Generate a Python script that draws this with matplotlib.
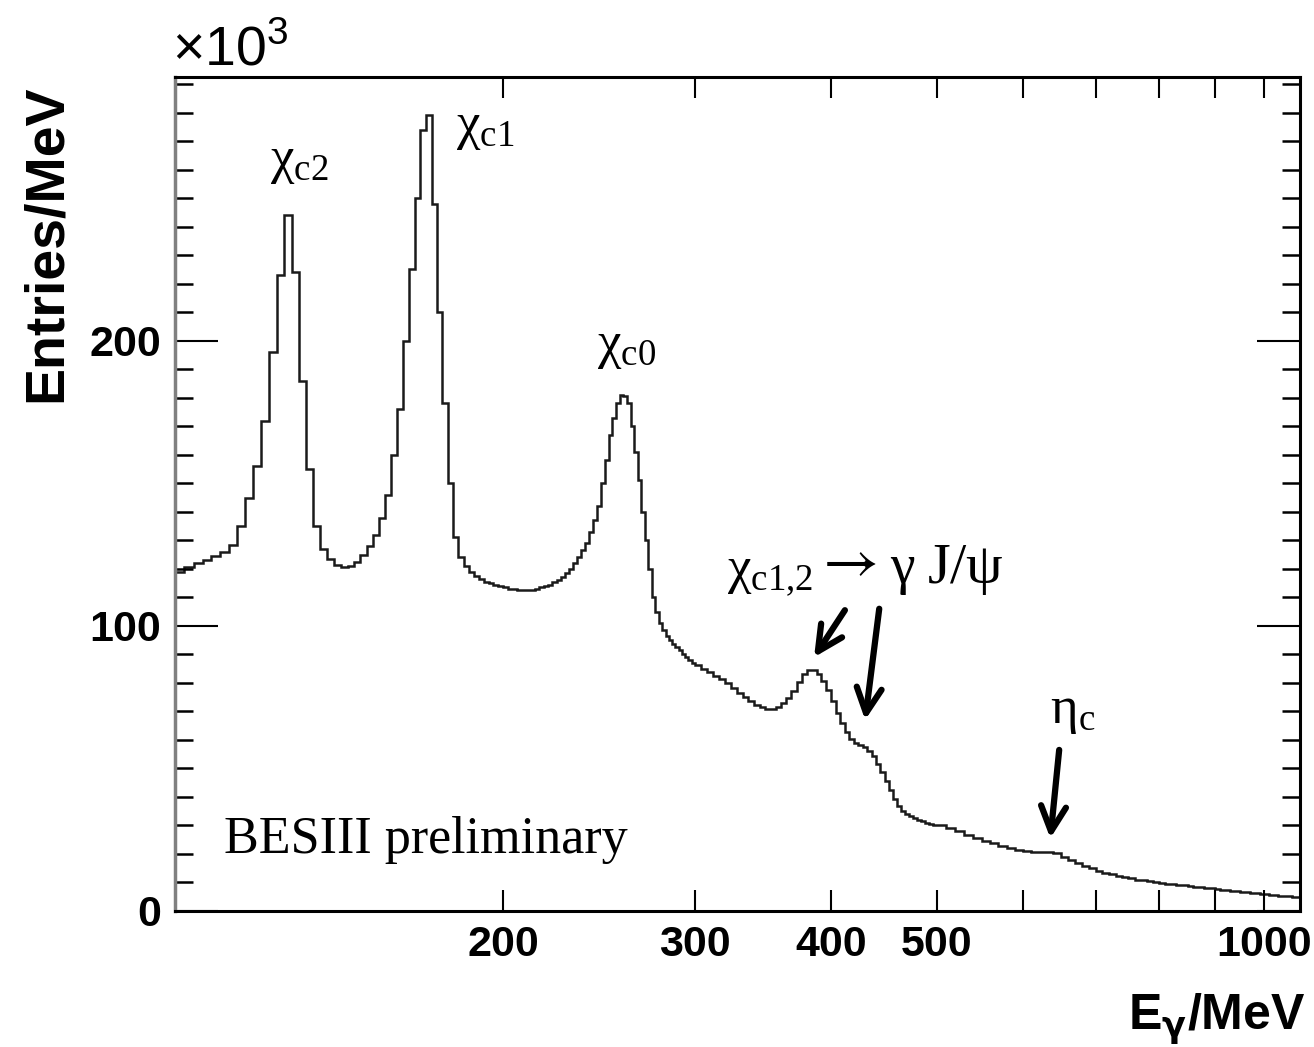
import numpy as np
import matplotlib
matplotlib.use("Agg")
import matplotlib.pyplot as plt
from matplotlib.ticker import FixedLocator, MultipleLocator, NullFormatter, FixedFormatter

plt.rcParams["font.family"] = ["Liberation Sans", "DejaVu Sans"]
plt.rcParams["mathtext.rm"] = "Liberation Serif"
plt.rcParams["mathtext.it"] = "Liberation Serif:italic"
plt.rcParams["mathtext.bf"] = "Liberation Serif:bold"

# Photon energy spectrum, entries per MeV (x10^3).
# 2 MeV bins from 100 to 300 MeV
fine_lo, fine_step = 100, 2
counts_fine = [
    119, 120.5, 122, 123, 124.5, 126, 128.5, 135, 145, 156,
    172, 196, 223, 244, 224, 186, 155, 135, 127, 123.5,
    121.5, 120.5, 121, 122.5, 125, 128, 132, 138, 146, 160,
    176, 200, 225, 250, 274, 279, 248, 210, 178, 150,
    131, 124, 121, 119, 117.5, 116.5, 115.5, 115, 114.5, 114,
    113.5, 113, 113, 112.5, 112.5, 112.5, 112.5, 113, 113.5, 114,
    114.5, 115.5, 116, 117, 118.5, 120, 122, 124, 126.5, 129,
    133, 137, 142, 150, 158, 167, 173, 178, 181, 180.5,
    178, 170, 161, 151, 140, 130, 120, 110, 105, 101,
    98.5, 96.5, 95, 93.5, 92.5, 91.5, 90, 89, 88, 87,
]
# 4 MeV bins from 300 to 500 MeV
mid_lo, mid_step = 300, 4
counts_mid = [
    86.2, 85, 83.8, 82.5, 81.2, 79.8, 78.2, 76.6, 75, 73.6,
    72.4, 71.5, 71, 71, 71.6, 72.8, 74.6, 77.2, 80.4, 83.2,
    84.6, 84.6, 83.2, 80.6, 77.4, 73.6, 69.5, 65.8, 62.8, 60.4,
    59, 58.2, 57.4, 56.2, 54.2, 51.6, 48.6, 45.6, 42.4, 39.2,
    36.8, 35.2, 34, 33.2, 32.5, 31.9, 31.4, 31, 30.6, 30.2,
]
# 10 MeV bins from 500 to 1080 MeV
wide_lo, wide_step = 500, 10
counts_wide = [
    30, 29, 28, 26.8, 25.6, 24.6, 23.7, 22.8, 22, 21.5,
    21.1, 20.8, 20.7, 20.7, 20.3, 19, 17.9, 16.9, 15.9, 15,
    14.2, 13.5, 12.9, 12.3, 11.8, 11.4, 11, 10.7, 10.4, 10.1,
    9.8, 9.6, 9.4, 9.2, 9.0, 8.7, 8.5, 8.3, 8.1, 7.9,
    7.7, 7.5, 7.3, 7.1, 6.9, 6.7, 6.5, 6.4, 6.2, 6.0,
    5.8, 5.7, 5.5, 5.4, 5.3, 5.1, 5.0, 4.9,
]

x_major = [200, 300, 400, 500, 600, 700, 800, 900, 1000]
x_labels = ["200", "300", "400", "500", "", "", "", "", "1000"]

# peak labels: (text, E, y, ha)
peak_labels = [
    (r"$\mathrm{\chi}_{\mathrm{c2}}$", 130, 263, "center"),
    (r"$\mathrm{\chi}_{\mathrm{c1}}$", 181, 275, "left"),
    (r"$\mathrm{\chi}_{\mathrm{c0}}$", 244, 198, "left"),
    (r"$\mathrm{\eta}_{\mathrm{c}}$", 635, 70, "left"),
]
# radiative transition label, in pieces: (text, E, y, va, size, fontset)
decay_parts = [
    (r"$\mathrm{\chi}_{\mathrm{c1{,}2}}$", 321, 115, "baseline", 38, "custom"),
    (r"$\rightarrow$", 386, 122.5, "center", 44, "stix"),
    (r"$\mathrm{\gamma}$", 453, 115, "baseline", 40, "custom"),
    (r"$\mathrm{J/\psi}$", 490, 115, "baseline", 42, "custom"),
]
# arrows: (tail E, tail y, tip E, tip y)
arrows = [
    (412, 105.5, 386, 89),
    (443, 106, 430, 67),
    (648, 56.5, 636, 25.5),
]

edges = np.concatenate([
    fine_lo + fine_step * np.arange(len(counts_fine)),
    mid_lo + mid_step * np.arange(len(counts_mid)),
    wide_lo + wide_step * np.arange(len(counts_wide) + 1),
])
counts = np.array(counts_fine + counts_mid + counts_wide)

fig = plt.figure(figsize=(13.14, 10.47), dpi=100)
ax = fig.add_axes([175 / 1314, 1 - 911 / 1047, 1125 / 1314, 834 / 1047])

ax.stairs(counts, edges, color="#1a1a1a", lw=1.8)

ax.set_xscale("log")
ax.set_xlim(100, 1078)
ax.set_ylim(0, 292.5)

ax.xaxis.set_major_locator(FixedLocator(x_major))
ax.xaxis.set_major_formatter(FixedFormatter(x_labels))
ax.xaxis.set_minor_locator(FixedLocator([]))
ax.xaxis.set_minor_formatter(NullFormatter())
ax.yaxis.set_major_locator(MultipleLocator(100))
ax.yaxis.set_minor_locator(MultipleLocator(10))

ax.tick_params(axis="x", which="major", direction="in", length=15, width=1.5,
               top=True, labelsize=31, pad=10)
ax.tick_params(axis="y", which="major", direction="in", length=31, width=1.5,
               right=True, labelsize=31, pad=10)
ax.tick_params(axis="y", which="minor", direction="in", length=13, width=1.8,
               right=True)
for lab in ax.get_xticklabels() + ax.get_yticklabels():
    lab.set_fontweight("bold")

for side in ["top", "bottom", "right"]:
    ax.spines[side].set_linewidth(2.2)
ax.spines["left"].set_linewidth(2.5)
ax.spines["left"].set_color("#808080")

for text, xe, ye, ha in peak_labels:
    ax.text(xe, ye, text, ha=ha, va="center", fontsize=38, math_fontfamily="custom")
for text, xe, ye, va, size, mf in decay_parts:
    ax.text(xe, ye, text, ha="left", va=va, fontsize=size, math_fontfamily=mf)

for x0, y0, x1, y1 in arrows:
    ax.annotate("", xy=(x1, y1), xytext=(x0, y0),
                arrowprops=dict(arrowstyle="->", lw=4.5, color="black",
                                mutation_scale=45, shrinkA=0, shrinkB=0))

ax.text(111, 25, "BESIII preliminary", ha="left", va="center", fontsize=37.5,
        family=["Liberation Serif", "DejaVu Serif"])

fig.text(47 / 1314, 1 - 85 / 1047, "Entries/MeV", rotation=90, ha="center",
         va="top", fontsize=40, fontweight="bold")
fig.text(1305 / 1314, 1 - 1030 / 1047, r"E$_{\mathbf{\gamma}}$/MeV", ha="right",
         va="baseline", fontsize=36, fontweight="bold", math_fontfamily="dejavusans")
fig.text(172 / 1314, 1 - 65 / 1047, r"×10$^{\mathregular{3}}$", ha="left",
         va="baseline", fontsize=40, math_fontfamily="dejavusans")

fig.savefig("out.png", dpi=100)
